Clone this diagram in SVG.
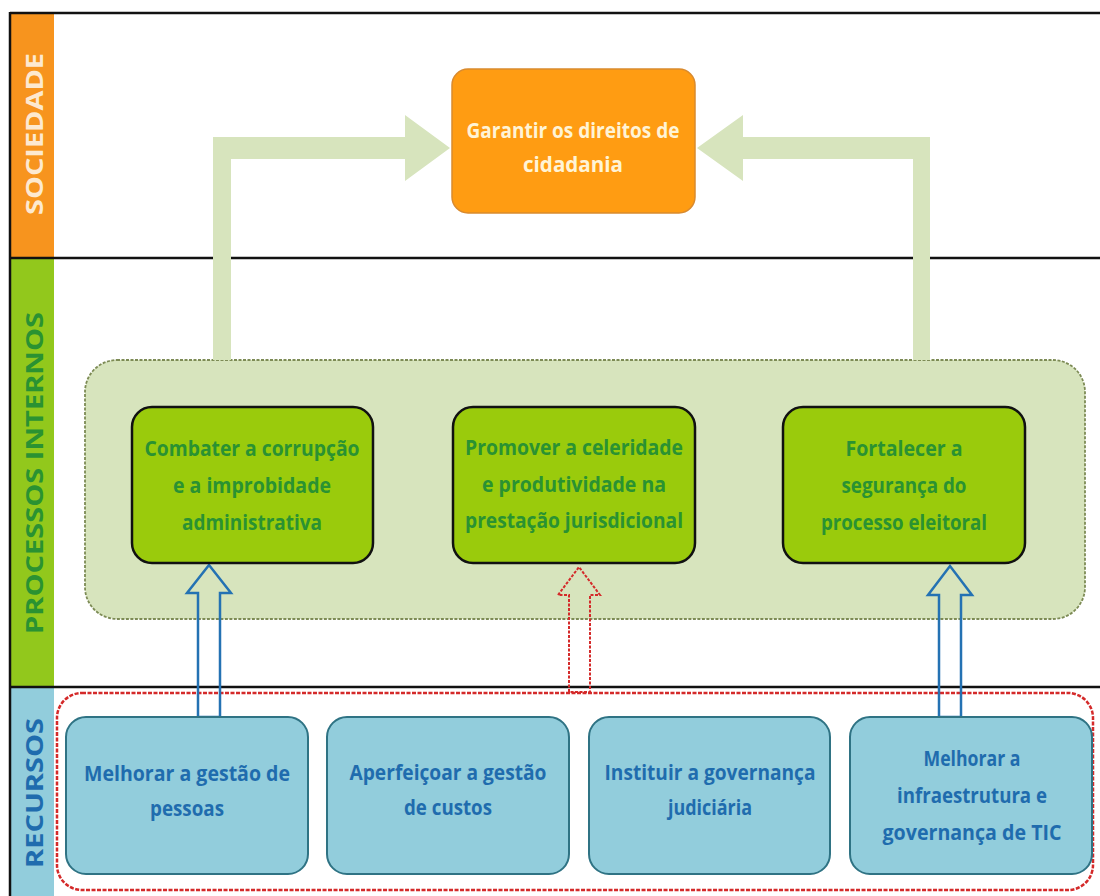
<svg xmlns="http://www.w3.org/2000/svg" width="1100" height="896" viewBox="0 0 1100 896">
<style>
  text { font-family: "Open Sans", "Liberation Sans", sans-serif; font-weight: bold; text-anchor: middle; }
  .lane { font-size: 24px; }
  .t { font-size: 22px; }
  .orange { fill: #ff9c12; stroke: #d98a2e; stroke-width: 1.5; }
  .green { fill: #9acb0c; stroke: #111; stroke-width: 2.5; }
  .blue { fill: #92cddc; stroke: #2f7384; stroke-width: 2; }
  .gt { fill: #2a9232; }
  .bt { fill: #1f6cae; }
  .ot { fill: #fff4d6; }
  .rule { stroke: #111; stroke-width: 2.5; }
  .big { fill: #d7e4bd; }
  .hollow-b { fill: none; stroke: #2472b3; stroke-width: 2.5; }
  .hollow-r { fill: none; stroke: #d42a2a; stroke-width: 2; stroke-dasharray: 3 1.5; }
</style>
<rect width="1100" height="896" fill="#ffffff"/>

<!-- lanes -->
<g id="lanes">
  <rect x="10" y="13" width="44" height="245" fill="#f7941e"/>
  <rect x="10" y="258" width="44" height="429" fill="#92c81c"/>
  <rect x="10" y="687" width="44" height="209" fill="#92cddc"/>
  <line class="rule" x1="10" y1="13" x2="1100" y2="13"/>
  <line class="rule" x1="10" y1="258" x2="1100" y2="258"/>
  <line class="rule" x1="10" y1="687" x2="1100" y2="687"/>
  <line class="rule" x1="10" y1="12" x2="10" y2="896"/>
  <text class="lane" fill="#fde9d0" transform="translate(43,134) rotate(-90)" textLength="162" lengthAdjust="spacingAndGlyphs">SOCIEDADE</text>
  <text class="lane" fill="#2a9232" transform="translate(43,473) rotate(-90)" textLength="322" lengthAdjust="spacingAndGlyphs">PROCESSOS INTERNOS</text>
  <text class="lane" fill="#1f6cae" transform="translate(43,793) rotate(-90)" textLength="150" lengthAdjust="spacingAndGlyphs">RECURSOS</text>
</g>

<!-- containers -->
<g id="processos-container">
  <rect x="85" y="360" width="1000" height="259" rx="32" fill="#d7e4bd" stroke="#7d8b55" stroke-width="1.8" stroke-dasharray="3 1.5"/>
</g>
<g id="recursos-container">
  <rect x="57" y="693" width="1036" height="197" rx="25" fill="none" stroke="#d42a2a" stroke-width="2.5" stroke-dasharray="4 1.5"/>
</g>

<!-- connectors -->
<g id="connectors">
  <path class="big" d="M213,360 L213,137 L405,137 L405,115 L450,148 L405,181 L405,159 L231,159 L231,360 Z"/>
  <path class="big" d="M930,360 L930,137 L743,137 L743,115 L697,148 L743,181 L743,159 L913,159 L913,360 Z"/>
  <path class="hollow-b" d="M198,717 L198,593 L187,593 L209,565 L231,593 L220,593 L220,717 Z"/>
  <path class="hollow-b" d="M939,717 L939,595 L928,595 L950,566 L972,595 L961,595 L961,717 Z"/>
  <path class="hollow-r" d="M569,692 L569,595 L558,595 L579,567 L600,595 L590,595 L590,692 Z"/>
</g>

<!-- nodes -->
<g id="garantir">
  <rect class="orange" x="452" y="69" width="243" height="144" rx="16"/>
  <text class="t ot" x="573" y="138" textLength="213" lengthAdjust="spacingAndGlyphs">Garantir os direitos de</text>
  <text class="t ot" x="573" y="172" textLength="100" lengthAdjust="spacingAndGlyphs">cidadania</text>
</g>
<g id="combater">
  <rect class="green" x="132" y="407" width="241" height="156" rx="20"/>
  <text class="t gt" x="252" y="456" textLength="215" lengthAdjust="spacingAndGlyphs">Combater a corrupção</text>
  <text class="t gt" x="252" y="493" textLength="158" lengthAdjust="spacingAndGlyphs">e a improbidade</text>
  <text class="t gt" x="252" y="530" textLength="140" lengthAdjust="spacingAndGlyphs">administrativa</text>
</g>
<g id="promover">
  <rect class="green" x="453" y="407" width="242" height="156" rx="20"/>
  <text class="t gt" x="574" y="455" textLength="218" lengthAdjust="spacingAndGlyphs">Promover a celeridade</text>
  <text class="t gt" x="574" y="492" textLength="184" lengthAdjust="spacingAndGlyphs">e produtividade na</text>
  <text class="t gt" x="574" y="528" textLength="218" lengthAdjust="spacingAndGlyphs">prestação jurisdicional</text>
</g>
<g id="fortalecer">
  <rect class="green" x="783" y="407" width="242" height="156" rx="20"/>
  <text class="t gt" x="904" y="456" textLength="117" lengthAdjust="spacingAndGlyphs">Fortalecer a</text>
  <text class="t gt" x="904" y="493" textLength="125" lengthAdjust="spacingAndGlyphs">segurança do</text>
  <text class="t gt" x="904" y="530" textLength="166" lengthAdjust="spacingAndGlyphs">processo eleitoral</text>
</g>
<g id="pessoas">
  <rect class="blue" x="66" y="717" width="242" height="157" rx="20"/>
  <text class="t bt" x="187" y="781" textLength="206" lengthAdjust="spacingAndGlyphs">Melhorar a gestão de</text>
  <text class="t bt" x="187" y="816" textLength="74" lengthAdjust="spacingAndGlyphs">pessoas</text>
</g>
<g id="custos">
  <rect class="blue" x="327" y="717" width="242" height="157" rx="20"/>
  <text class="t bt" x="448" y="780" textLength="197" lengthAdjust="spacingAndGlyphs">Aperfeiçoar a gestão</text>
  <text class="t bt" x="448" y="815" textLength="88" lengthAdjust="spacingAndGlyphs">de custos</text>
</g>
<g id="governanca">
  <rect class="blue" x="589" y="717" width="241" height="157" rx="20"/>
  <text class="t bt" x="710" y="780" textLength="211" lengthAdjust="spacingAndGlyphs">Instituir a governança</text>
  <text class="t bt" x="710" y="815" textLength="84" lengthAdjust="spacingAndGlyphs">judiciária</text>
</g>
<g id="infraestrutura">
  <rect class="blue" x="850" y="717" width="242" height="157" rx="20"/>
  <text class="t bt" x="972" y="766" textLength="97" lengthAdjust="spacingAndGlyphs">Melhorar a</text>
  <text class="t bt" x="972" y="803" textLength="150" lengthAdjust="spacingAndGlyphs">infraestrutura e</text>
  <text class="t bt" x="972" y="840" textLength="179" lengthAdjust="spacingAndGlyphs">governança de TIC</text>
</g>
</svg>
